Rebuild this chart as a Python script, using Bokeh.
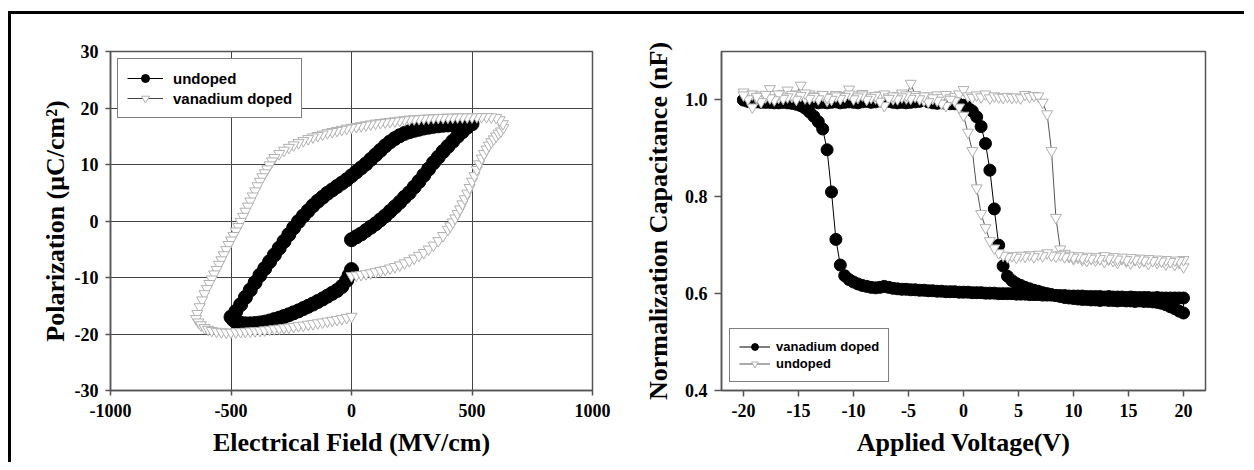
from bokeh.plotting import figure
from bokeh.layouts import row
from bokeh.models import FixedTicker, PrintfTickFormatter, Range1d
from bokeh.embed import file_html
from bokeh.resources import INLINE

# ---------------- Left panel: P-E hysteresis loops ----------------
E_undoped = [0, 20, 40, 60, 80, 100, 120, 140, 160, 180, 200, 220, 240, 260, 280, 300,
             320, 340, 360, 380, 400, 420, 440, 460, 480, 500,
             480, 460, 440, 420, 400, 380, 360, 340, 320, 300, 280, 260, 240, 220, 200,
             180, 160, 140, 120, 100, 80, 60, 40, 20, 0, -20, -40, -60, -80, -100,
             -120, -140, -160, -180, -200, -220, -240, -260, -280, -300, -320, -340,
             -360, -380, -400, -420, -440, -460, -480, -500,
             -490, -480, -460, -440, -420, -400, -380, -360, -340, -320, -300, -280,
             -260, -240, -220, -200, -180, -160, -140, -120, -100, -80, -60, -40, -20,
             -10, 0]
P_undoped = [-3.3, -2.8, -2.3, -1.7, -1.1, -0.5, 0.2, 0.9, 1.7, 2.5, 3.3, 4.2, 5.0, 6.0,
             7.0, 8.1, 9.2, 10.3, 11.3, 12.3, 13.2, 14.1, 15.0, 15.8, 16.6, 17.2,
             17.2, 17.15, 17.1, 17.05, 17.0, 16.95, 16.85, 16.75, 16.6, 16.45, 16.25,
             16.05, 15.8, 15.5, 15.1, 14.6, 14.0, 13.3, 12.5, 11.7, 10.9, 10.1, 9.4,
             8.7, 8.0, 7.3, 6.7, 6.1, 5.5, 4.9, 4.2, 3.5, 2.7, 1.8, 0.9, -0.1, -1.2,
             -2.4, -3.6, -4.8, -6.0, -7.2, -8.4, -9.6, -10.9, -12.2, -13.5, -14.8,
             -16.0, -17.0,
             -17.5, -17.8, -18.1, -18.2, -18.2, -18.15, -18.05, -17.9, -17.7, -17.45,
             -17.2, -16.9, -16.6, -16.25, -15.9, -15.5, -15.1, -14.7, -14.25, -13.8,
             -13.3, -12.8, -12.3, -11.6, -10.5, -9.6, -8.6]

E_vdoped = [0, 20, 40, 60, 80, 100, 120, 140, 160, 180, 200, 220, 240, 260, 280, 300,
            320, 340, 360, 380, 400, 410, 420, 430, 440, 450, 460, 470, 480, 490, 500,
            510, 520, 530, 540, 550, 560, 570, 580, 590, 600, 610, 620, 630,
            628, 615, 600,
            580, 560, 540, 520, 500, 480, 460, 440, 420, 400, 380, 360, 340, 320, 300,
            280, 260, 240, 220, 200, 180, 160, 140, 120, 100, 80, 60, 40, 20, 0, -20,
            -40, -60, -80, -100, -120, -140, -160, -180, -200, -220, -240, -260, -280,
            -300, -320, -330, -340, -350, -360, -370, -380, -390, -400, -410, -420,
            -430, -440, -450, -460, -470, -480, -490, -500, -510, -520, -530, -540,
            -550, -560, -570, -580, -590, -600, -610, -620, -630, -640, -645,
            -635, -625, -610, -595, -580, -560, -540, -520, -500, -480, -460, -440,
            -420, -400, -380, -360, -340, -320, -300, -280, -260, -240, -220, -200,
            -180, -160, -140, -120, -100, -80, -60, -40, -20, 0]
P_vdoped = [-9.7, -9.6, -9.5, -9.35, -9.2, -9.0, -8.8, -8.6, -8.35, -8.1, -7.8, -7.45,
            -7.05, -6.6, -6.1, -5.6, -5.0, -4.3, -3.5, -2.6, -1.5, -0.9, -0.2, 0.5, 1.3,
            2.1, 3.0, 3.9, 4.9, 5.9, 7.0, 8.0, 9.1, 10.1, 11.1, 11.9, 12.7, 13.4, 14.0,
            14.5, 15.0, 15.5, 15.9, 16.5,
            17.2, 17.9, 18.3,
            18.4, 18.45, 18.45, 18.45, 18.4, 18.4, 18.4, 18.4, 18.35, 18.35, 18.3, 18.3,
            18.25, 18.2, 18.15, 18.1, 18.05, 18.0, 17.9, 17.8, 17.7, 17.6, 17.5, 17.4,
            17.3, 17.15, 17.0, 16.85, 16.7, 16.55, 16.4, 16.2, 16.0, 15.8, 15.6, 15.35,
            15.1, 14.85, 14.55, 14.2, 13.85, 13.45, 13.0, 12.5, 11.9, 11.2, 10.6, 9.9,
            9.2, 8.5, 7.8, 7.0, 6.2, 5.3, 4.4, 3.5, 2.6, 1.7, 0.8, -0.1, -1.0, -1.8,
            -2.6, -3.4, -4.2, -5.1, -6.0, -6.9, -7.7, -8.6, -9.4, -10.3, -11.1, -12.0,
            -12.9, -14.0, -15.2, -16.4, -17.3,
            -17.9, -18.4, -18.9, -19.2, -19.4, -19.55, -19.65, -19.7, -19.7, -19.65,
            -19.6, -19.55, -19.5, -19.45, -19.4, -19.3, -19.2, -19.1, -19.0, -18.9,
            -18.8, -18.7, -18.55, -18.45, -18.3, -18.2, -18.05, -17.9, -17.75, -17.6,
            -17.45, -17.3, -17.1, -16.9]

E_ticks = [-1000, -500, 0, 500, 1000]
P_ticks = [-30, -20, -10, 0, 10, 20, 30]

# ---------------- Right panel: C-V curves ----------------
V_grid = [-20.0, -19.6, -19.2, -18.8, -18.4, -18.0, -17.6, -17.2, -16.8, -16.4,
          -16.0, -15.6, -15.2, -14.8, -14.4, -14.0, -13.6, -13.2, -12.8, -12.4,
          -12.0, -11.6, -11.2, -10.8, -10.4, -10.0, -9.6, -9.2, -8.8, -8.4,
          -8.0, -7.6, -7.2, -6.8, -6.4, -6.0, -5.6, -5.2, -4.8, -4.4,
          -4.0, -3.6, -3.2, -2.8, -2.4, -2.0, -1.6, -1.2, -0.8, -0.4,
          0.0, 0.4, 0.8, 1.2, 1.6, 2.0, 2.4, 2.8, 3.2, 3.6,
          4.0, 4.4, 4.8, 5.2, 5.6, 6.0, 6.4, 6.8, 7.2, 7.6,
          8.0, 8.4, 8.8, 9.2, 9.6, 10.0, 10.4, 10.8, 11.2, 11.6,
          12.0, 12.4, 12.8, 13.2, 13.6, 14.0, 14.4, 14.8, 15.2, 15.6,
          16.0, 16.4, 16.8, 17.2, 17.6, 18.0, 18.4, 18.8, 19.2, 19.6,
          20.0]

# vanadium doped, sweep -20 -> +20
C_vd_up = [1.000, 0.998, 0.996, 0.997, 0.995, 0.996, 0.995, 0.996, 0.994, 0.995,
           0.995, 0.994, 0.996, 0.995, 0.994, 0.995, 0.996, 0.994, 0.995, 0.994,
           0.995, 0.996, 0.994, 0.995, 0.996, 0.995, 0.994, 0.996, 0.997, 0.995,
           0.996, 0.998, 1.001, 0.997, 0.995, 0.994, 0.995, 0.994, 0.995, 0.996,
           0.997, 0.999, 0.996, 0.994, 0.993, 0.994, 0.993, 0.992, 0.992, 0.991,
           0.989, 0.985, 0.977, 0.965, 0.945, 0.910, 0.855, 0.775, 0.700, 0.657,
           0.636, 0.627, 0.621, 0.617, 0.613, 0.610, 0.607, 0.605, 0.602, 0.600,
           0.598, 0.596, 0.594, 0.592, 0.591, 0.590, 0.589, 0.588, 0.588, 0.587,
           0.587, 0.586, 0.587, 0.586, 0.586, 0.585, 0.586, 0.585, 0.585, 0.584,
           0.585, 0.584, 0.584, 0.583, 0.582, 0.580, 0.577, 0.573, 0.569, 0.564,
           0.560]
# vanadium doped, sweep +20 -> -20 (listed in ascending voltage order)
C_vd_down = [1.000, 0.997, 0.995, 0.996, 0.996, 0.995, 0.996, 0.994, 0.995, 0.996,
             0.994, 0.993, 0.991, 0.988, 0.983, 0.975, 0.966, 0.955, 0.940, 0.897,
             0.810, 0.712, 0.659, 0.637, 0.629, 0.624, 0.620, 0.617, 0.615, 0.613,
             0.612, 0.613, 0.615, 0.613, 0.611, 0.610, 0.609, 0.609, 0.608, 0.608,
             0.607, 0.607, 0.606, 0.606, 0.605, 0.605, 0.604, 0.604, 0.604, 0.603,
             0.603, 0.603, 0.602, 0.602, 0.602, 0.601, 0.601, 0.601, 0.600, 0.600,
             0.600, 0.600, 0.599, 0.599, 0.599, 0.598, 0.598, 0.598, 0.597, 0.597,
             0.597, 0.596, 0.596, 0.596, 0.595, 0.595, 0.595, 0.595, 0.594, 0.594,
             0.594, 0.594, 0.593, 0.594, 0.593, 0.593, 0.593, 0.592, 0.593, 0.592,
             0.592, 0.592, 0.592, 0.591, 0.592, 0.591, 0.591, 0.591, 0.591, 0.591,
             0.591]
# undoped, sweep -20 -> +20
C_ud_up = [1.016, 1.008, 1.012, 1.004, 1.010, 1.006, 1.023, 1.011, 1.005, 1.013,
           1.020, 1.007, 1.012, 1.030, 1.004, 1.012, 1.008, 1.003, 1.010, 0.999,
           1.006, 1.011, 1.004, 1.009, 1.022, 1.010, 1.005, 1.013, 1.003, 1.008,
           1.004, 1.010, 1.012, 1.006, 1.002, 1.009, 1.014, 1.004, 1.034, 1.011,
           1.006, 0.999, 1.008, 1.003, 1.010, 1.005, 1.011, 1.004, 1.007, 1.012,
           1.021, 1.008, 1.005, 1.010, 1.006, 1.012, 1.004, 1.008, 1.006, 1.005,
           1.007, 1.005, 1.006, 1.004, 1.011, 1.007, 1.009, 1.008, 0.995, 0.971,
           0.895, 0.757, 0.692, 0.683, 0.676, 0.672, 0.675, 0.670, 0.668, 0.673,
           0.669, 0.674, 0.666, 0.671, 0.668, 0.664, 0.672, 0.667, 0.663, 0.670,
           0.665, 0.668, 0.662, 0.670, 0.664, 0.667, 0.661, 0.666, 0.660, 0.664,
           0.655]
# undoped, sweep +20 -> -20 (listed in ascending voltage order)
C_ud_down = [1.010, 1.002, 0.985, 1.007, 0.996, 1.011, 1.004, 1.000, 1.012, 1.003,
             1.006, 1.011, 1.001, 1.009, 1.014, 1.003, 1.007, 1.002, 1.011, 1.005,
             1.001, 1.008, 1.003, 1.007, 1.012, 1.002, 1.006, 1.010, 1.001, 1.005,
             1.009, 0.997, 0.988, 1.003, 1.008, 1.002, 1.006, 1.010, 1.003, 1.007,
             1.002, 1.008, 0.996, 1.004, 0.999, 0.993, 0.988, 1.001, 0.998, 0.985,
             0.968, 0.933, 0.895, 0.818, 0.765, 0.736, 0.709, 0.694, 0.684, 0.679,
             0.676, 0.678, 0.675, 0.679, 0.677, 0.680, 0.676, 0.681, 0.678, 0.684,
             0.679, 0.677, 0.680, 0.676, 0.679, 0.675, 0.678, 0.674, 0.677, 0.673,
             0.676, 0.672, 0.678, 0.673, 0.676, 0.671, 0.675, 0.670, 0.674, 0.671,
             0.673, 0.669, 0.672, 0.668, 0.671, 0.667, 0.670, 0.666, 0.669, 0.668,
             0.670]

V_ticks = [-20, -15, -10, -5, 0, 5, 10, 15, 20]
C_ticks = [0.4, 0.6, 0.8, 1.0]

SERIF = "Liberation Serif"
SANS = "Liberation Sans"
AXIS_GREY = "#555555"
TRI_GREY = "#b0b0b0"


def hyphen_labels(ticks):
    return {t: str(t) for t in ticks}


def style_axes(p):
    for ax in (p.xaxis[0], p.yaxis[0]):
        ax.axis_label_text_font = SERIF
        ax.axis_label_text_font_style = "bold"
        ax.axis_label_text_font_size = "26px"
        ax.axis_label_text_color = "black"
        ax.major_label_text_font = SERIF
        ax.major_label_text_font_style = "bold"
        ax.major_label_text_font_size = "18px"
        ax.major_label_text_color = "black"
        ax.minor_tick_line_color = None
        ax.major_tick_in = 0
        ax.axis_line_color = AXIS_GREY
        ax.axis_line_width = 1.5
        ax.major_tick_line_color = AXIS_GREY
        ax.major_tick_line_width = 1.5
    p.outline_line_color = AXIS_GREY
    p.outline_line_width = 1.5
    p.background_fill_color = "white"
    p.border_fill_color = "white"


def style_legend(p, loc, margin, pad, gw, gh, standoff, fsize):
    lg = p.legend[0]
    lg.location = loc
    lg.margin = margin
    lg.padding = pad
    lg.spacing = 0
    lg.glyph_width = gw
    lg.glyph_height = gh
    lg.label_height = gh
    lg.label_standoff = standoff
    lg.label_text_font = SANS
    lg.label_text_font_style = "bold"
    lg.label_text_font_size = fsize
    lg.label_text_color = "black"
    lg.border_line_color = "black"
    lg.border_line_width = 1
    lg.background_fill_color = "white"
    lg.background_fill_alpha = 1.0


# ---- left figure ----
p1 = figure(width=600, height=448, output_backend="svg", toolbar_location=None,
            x_range=Range1d(-1000, 1000), y_range=Range1d(-30, 30),
            min_border_left=99, min_border_right=19, min_border_top=37,
            min_border_bottom=72)
p1.line(E_undoped, P_undoped, line_color="black", line_width=1, legend_label="undoped")
p1.scatter(E_undoped, P_undoped, marker="circle", size=14, fill_color="black",
           line_color="black", legend_label="undoped")
p1.line(E_vdoped, P_vdoped, line_color="#444444", line_width=1, legend_label="vanadium doped")
p1.scatter(E_vdoped, P_vdoped, marker="inverted_triangle", size=11, fill_color="white",
           line_color=TRI_GREY, line_width=1, legend_label="vanadium doped")
p1.xaxis.ticker = FixedTicker(ticks=E_ticks)
p1.yaxis.ticker = FixedTicker(ticks=P_ticks)
p1.xaxis.major_label_overrides = hyphen_labels(E_ticks)
p1.yaxis.major_label_overrides = hyphen_labels(P_ticks)
p1.xaxis.axis_label = "Electrical Field (MV/cm)"
p1.yaxis.axis_label = "Polarization (\u03bcC/cm\u00b2)"
style_axes(p1)
p1.grid.grid_line_color = "#444444"
p1.grid.grid_line_width = 1
p1.xaxis.major_tick_out = 5
p1.yaxis.major_tick_out = 5
p1.xaxis.major_label_standoff = 8
p1.yaxis.major_label_standoff = 7
p1.xaxis.axis_label_standoff = 8
p1.yaxis.axis_label_standoff = 2
style_legend(p1, "top_left", 7, 9, 36, 20, 10, "15px")

# ---- right figure ----
p2 = figure(width=633, height=448, output_backend="svg", toolbar_location=None,
            x_range=Range1d(-22, 22), y_range=Range1d(0.4, 1.1),
            min_border_left=110, min_border_right=39, min_border_top=37,
            min_border_bottom=72)
V_vd = V_grid + V_grid[::-1]
C_vd = C_vd_up + C_vd_down[::-1]
V_ud = V_grid + V_grid[::-1]
C_ud = C_ud_up + C_ud_down[::-1]
p2.line(V_vd, C_vd, line_color="black", line_width=1, legend_label="vanadium doped")
p2.scatter(V_vd, C_vd, marker="circle", size=12, fill_color="black", line_color="black",
           legend_label="vanadium doped")
p2.line(V_ud, C_ud, line_color="#555555", line_width=1, legend_label="undoped")
p2.scatter(V_ud, C_ud, marker="inverted_triangle", size=11, fill_color="white",
           line_color=TRI_GREY, line_width=1, legend_label="undoped")
p2.xaxis.ticker = FixedTicker(ticks=V_ticks)
p2.yaxis.ticker = FixedTicker(ticks=C_ticks)
p2.xaxis.major_label_overrides = hyphen_labels(V_ticks)
p2.yaxis.formatter = PrintfTickFormatter(format="%.1f")
p2.xaxis.axis_label = "Applied Voltage(V)"
p2.yaxis.axis_label = "Normalization Capacitance (nF)"
style_axes(p2)
p2.grid.grid_line_color = None
p2.xaxis.major_tick_out = 6
p2.yaxis.major_tick_out = 7
p2.xaxis.major_label_standoff = 7
p2.yaxis.major_label_standoff = 7
p2.xaxis.axis_label_standoff = 8
p2.yaxis.axis_label_standoff = 9
style_legend(p2, "bottom_left", 8, 9, 31, 17, 6, "13px")

layout = row(p1, p2, styles={"border-top": "3px solid black",
                             "border-left": "3px solid black",
                             "margin-top": "11px",
                             "margin-left": "8px"})

with open("out.html", "w") as f:
    f.write(file_html(layout, INLINE))
